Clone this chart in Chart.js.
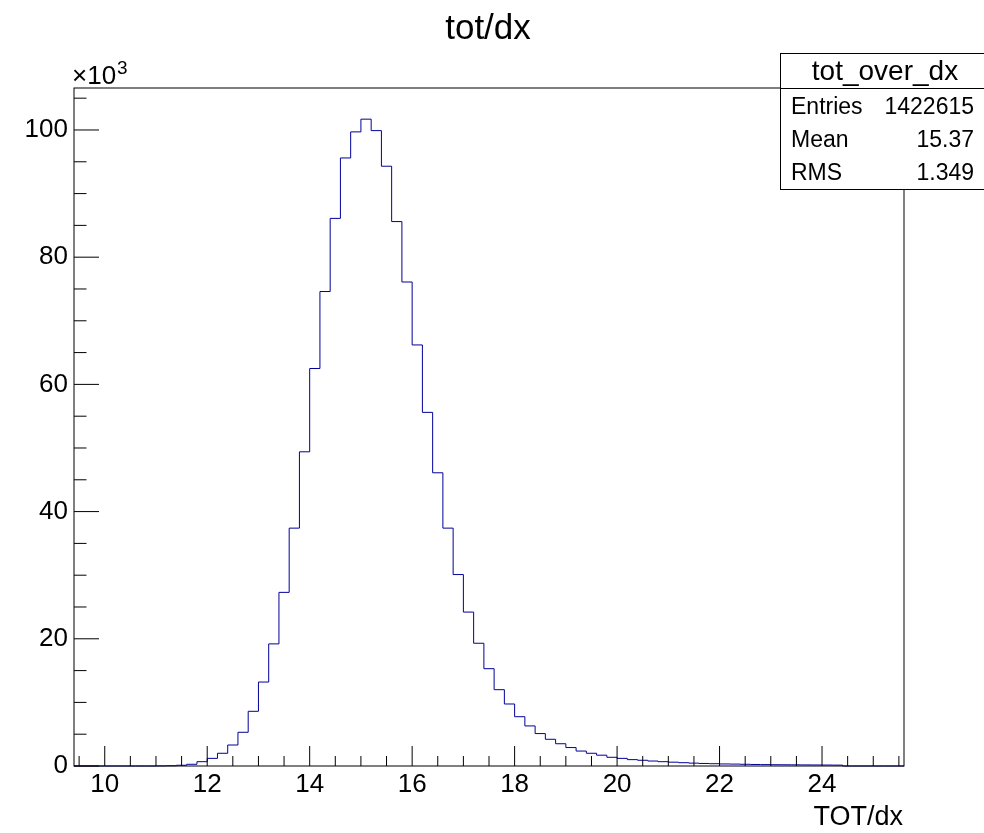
<!DOCTYPE html>
<html>
<head>
<meta charset="utf-8">
<title>tot/dx</title>
<script src="https://cdn.jsdelivr.net/npm/chart.js@4.4.0/dist/chart.umd.min.js"></script>
<style>
  html, body { margin: 0; padding: 0; background: #fff; }
  #wrap { width: 984px; height: 833px; position: relative; }
</style>
</head>
<body>
<div id="wrap"><canvas id="c" width="984" height="833"></canvas></div>
<script>
// ================= DATA ==================
const HIST_NAME = "tot_over_dx";
const TITLE = "tot/dx";
const X_TITLE = "TOT/dx";

// histogram binning (x axis range = bin range)
const X_MIN = 9.4;
const X_MAX = 25.6;
const BIN_WIDTH = 0.2;

// bin contents, in units of 10^3 entries (bin i starts at X_MIN + i*BIN_WIDTH)
const COUNTS_K = [
  0, 0, 0, 0, 0, 0, 0, 0,                 // 9.4 .. 10.8
  0.01, 0.04, 0.12, 0.27, 0.68,           // 11.0 .. 11.8
  1.2, 2.0, 3.3, 5.3, 8.6,                // 12.0 .. 12.8
  13.2, 19.2, 27.3, 37.4, 49.4,           // 13.0 .. 13.8
  62.5, 74.6, 86.1, 95.6, 99.7,           // 14.0 .. 14.8
  101.7, 99.9, 94.3, 85.6, 76.1,          // 15.0 .. 15.8
  66.2, 55.6, 46.1, 37.4, 30.1,           // 16.0 .. 16.8
  24.2, 19.3, 15.3, 12.0, 9.75,           // 17.0 .. 17.8
  7.75, 6.3, 5.1, 4.2, 3.5,               // 18.0 .. 18.8
  2.9, 2.35, 2.0, 1.7, 1.37,              // 19.0 .. 19.8
  1.2, 1.0, 0.9, 0.78, 0.68,              // 20.0 .. 20.8
  0.6, 0.52, 0.45, 0.4, 0.36,             // 21.0 .. 21.8
  0.32, 0.3, 0.27, 0.24, 0.22,            // 22.0 .. 22.8
  0.2, 0.19, 0.18, 0.17, 0.16,            // 23.0 .. 23.8
  0.15, 0.14,                             // 24.0 .. 24.2
  0, 0, 0, 0, 0, 0                        // 24.4 .. 25.4
];

const Y_MAX_K = 106.6;
const X_TICKS = [10, 12, 14, 16, 18, 20, 22, 24];
const Y_TICKS = [0, 20, 40, 60, 80, 100];
const X_MINOR_STEP = 0.5;
const Y_MINOR_STEP = 5;

const STATS_LABELS = ["Entries", "Mean", "RMS"];
const STATS_VALUES = ["1422615", "15.37", "1.349"];

// ================= UTIL ==================
const FONT = "'Liberation Sans', Arial, Helvetica, sans-serif";

// step outline points: one point per bin low edge, plus the last upper edge
function histPoints(counts){
  const pts = counts.map((c, i) => ({ x: +(X_MIN + i * BIN_WIDTH).toFixed(4), y: c }));
  pts.push({ x: X_MAX, y: 0 });
  return pts;
}

function minorValues(min, max, step){
  const out = [];
  const start = Math.ceil(min / step - 1e-9) * step;
  for (let v = start; v <= max + 1e-9; v += step) out.push(+v.toFixed(4));
  return out;
}

// ============== ROOT-like decorations ==============
const rootStyle = {
  id: "rootStyle",
  afterDraw(chart){
    const ctx = chart.ctx;
    const a = chart.chartArea;
    const xs = chart.scales.x, ys = chart.scales.y;
    ctx.save();
    ctx.strokeStyle = "#000";
    ctx.lineWidth = 1;

    // frame
    ctx.strokeRect(a.left, a.top, a.right - a.left, a.bottom - a.top);

    // y ticks (inside)
    ctx.beginPath();
    Y_TICKS.forEach(v => {
      const y = ys.getPixelForValue(v);
      ctx.moveTo(a.left, y); ctx.lineTo(a.left + 25, y);
    });
    minorValues(0, Y_MAX_K, Y_MINOR_STEP).forEach(v => {
      if (Y_TICKS.includes(v)) return;
      const y = ys.getPixelForValue(v);
      ctx.moveTo(a.left, y); ctx.lineTo(a.left + 12.5, y);
    });
    // x ticks (inside)
    X_TICKS.forEach(v => {
      const x = xs.getPixelForValue(v);
      ctx.moveTo(x, a.bottom); ctx.lineTo(x, a.bottom - 20);
    });
    minorValues(X_MIN, X_MAX, X_MINOR_STEP).forEach(v => {
      if (X_TICKS.includes(v)) return;
      const x = xs.getPixelForValue(v);
      ctx.moveTo(x, a.bottom); ctx.lineTo(x, a.bottom - 10);
    });
    ctx.stroke();

    ctx.fillStyle = "#000";
    // title
    ctx.font = `35px ${FONT}`;
    ctx.textAlign = "center";
    ctx.textBaseline = "alphabetic";
    ctx.fillText(TITLE, 488, 39);

    // x10^3
    ctx.textAlign = "left";
    ctx.font = `26px ${FONT}`;
    ctx.fillText("\u00d710", 72, 84);
    const w = ctx.measureText("\u00d710").width;
    ctx.font = `19px ${FONT}`;
    ctx.fillText("3", 73 + w, 74);

    // x axis title
    ctx.font = `27px ${FONT}`;
    ctx.textAlign = "right";
    ctx.fillText(X_TITLE, 903, 825);

    // stats box
    const bx = 780.5, by = 53.5, bw = 984 - 780.5 + 2, bh = 136;
    ctx.fillStyle = "#fff";
    ctx.fillRect(bx, by, bw, bh);
    ctx.strokeRect(bx, by, bw, bh);
    ctx.beginPath();
    ctx.moveTo(bx, 88.5); ctx.lineTo(984, 88.5);
    ctx.stroke();
    ctx.fillStyle = "#000";
    ctx.font = `28px ${FONT}`;
    ctx.textAlign = "center";
    ctx.fillText(HIST_NAME, 885, 80);
    ctx.font = `23px ${FONT}`;
    const rowBase = [114, 147, 180];
    STATS_LABELS.forEach((lab, i) => {
      ctx.textAlign = "left";
      ctx.fillText(lab, 791, rowBase[i]);
      ctx.textAlign = "right";
      ctx.fillText(STATS_VALUES[i], 974, rowBase[i]);
    });
    ctx.restore();
  }
};

// ============== CHART ==============
new Chart(document.getElementById("c").getContext("2d"), {
  type: "line",
  data: {
    datasets: [{
      label: HIST_NAME,
      data: histPoints(COUNTS_K),
      stepped: "before",   // bin [x_i, x_i+1] drawn at height of point i
      borderColor: "#000099",
      borderWidth: 1,
      pointRadius: 0,
      fill: false,
      tension: 0,
      clip: false
    }]
  },
  options: {
    responsive: false,
    animation: false,
    events: [],
    layout: { padding: { left: 0, right: 80, top: 88, bottom: 0 } },
    plugins: { legend: { display: false }, tooltip: { enabled: false }, title: { display: false } },
    scales: {
      x: {
        type: "linear",
        min: X_MIN, max: X_MAX,
        grid: { display: false, drawTicks: false },
        border: { display: false },
        afterBuildTicks: s => { s.ticks = X_TICKS.map(v => ({ value: v })); },
        afterFit: s => { s.height = 67; },
        ticks: { color: "#000", padding: 3, maxRotation: 0, font: { family: FONT, size: 26 } }
      },
      y: {
        type: "linear",
        min: 0, max: Y_MAX_K,
        grid: { display: false, drawTicks: false },
        border: { display: false },
        afterBuildTicks: s => { s.ticks = Y_TICKS.map(v => ({ value: v })); },
        afterFit: s => { s.width = 74; },
        ticks: { color: "#000", padding: 6, font: { family: FONT, size: 26 } }
      }
    }
  },
  plugins: [rootStyle]
});
</script>
</body>
</html>
